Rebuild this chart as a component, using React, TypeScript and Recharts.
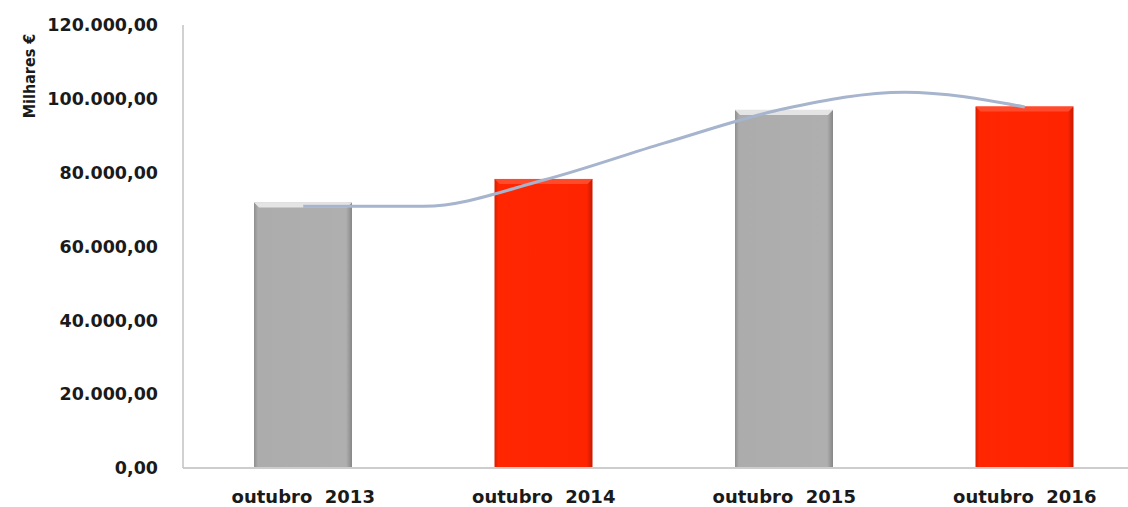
import React from 'react';
import { ComposedChart, Bar, Line, XAxis, YAxis, Label } from 'recharts';

// categorias e valores (milhares de euros)
const periods = ['outubro\u00a0 2013', 'outubro\u00a0 2014', 'outubro\u00a0 2015', 'outubro\u00a0 2016'];
const amounts = [71900, 78300, 97000, 97900];

// linha de tendência (posição em categorias -> valor)
const trendPos = [0, 0.5, 1, 1.5, 2, 2.5, 3];
const trendVals = [70900, 70900, 78000, 88000, 97300, 101800, 97800];

const yTicks = [0, 20000, 40000, 60000, 80000, 100000, 120000];

const rows = periods.map((p, i) => ({ name: p, value: amounts[i] }));
const trendRows = trendPos.map((x, i) => ({ x, v: trendVals[i] }));

const fmt = (n: number) => {
  const s = Math.round(n).toString().replace(/\B(?=(\d{3})+(?!\d))/g, '.');
  return s + ',00';
};

const BarShape = (props: any) => {
  const { x, y, width, height, index } = props;
  const red = index % 2 === 1;
  const b = 5;
  return (
    <g>
      <rect x={x} y={y} width={width} height={height} fill={red ? 'url(#gRed)' : 'url(#gGrey)'} />
      <polygon
        points={`${x},${y} ${x + width},${y} ${x + width - b},${y + b} ${x + b},${y + b}`}
        fill={red ? '#ff4a2c' : '#e4e4e4'}
      />
    </g>
  );
};

const App: React.FC = () => {
  const tickStyle = { fill: '#1a1a1a', fontSize: 17.5, fontWeight: 'bold', fontFamily: '"DejaVu Sans", Verdana, sans-serif' };
  return (
    <div style={{ position: 'absolute', left: 0, top: 0, width: 1128, height: 507, overflow: 'hidden', background: '#fff' }}>
      <ComposedChart width={1150} height={507} data={rows} margin={{ top: 25, right: 5, bottom: 0, left: 0 }}>
        <defs>
          <linearGradient id="gGrey" x1="0" y1="0" x2="1" y2="0">
            <stop offset="0%" stopColor="#8e8e8e" />
            <stop offset="4%" stopColor="#acacac" />
            <stop offset="94%" stopColor="#afafaf" />
            <stop offset="100%" stopColor="#868686" />
          </linearGradient>
          <linearGradient id="gRed" x1="0" y1="0" x2="1" y2="0">
            <stop offset="0%" stopColor="#d81e00" />
            <stop offset="4%" stopColor="#ff2600" />
            <stop offset="94%" stopColor="#ff2400" />
            <stop offset="100%" stopColor="#c41a00" />
          </linearGradient>
        </defs>
        <XAxis
          dataKey="name"
          axisLine={{ stroke: '#cdcdcd', strokeWidth: 2 }}
          tickLine={false}
          tickSize={0}
          tickMargin={22}
          height={39}
          interval={0}
          tick={{ ...tickStyle, fontSize: 18 }}
        />
        <XAxis xAxisId="t" type="number" dataKey="x" domain={[-0.5, 3.5]} allowDataOverflow hide />
        <YAxis
          width={183}
          domain={[0, 120000]}
          ticks={yTicks}
          tickFormatter={fmt}
          axisLine={{ stroke: '#c2c2c2', strokeWidth: 1.5 }}
          tickLine={false}
          tickSize={0}
          tickMargin={25}
          tick={tickStyle}
        >
          <Label
            content={() => (
              <text
                transform="translate(29,76) rotate(-90)"
                textAnchor="middle"
                dominantBaseline="central"
                fontSize={16}
                fontWeight="bold"
                fill="#1a1a1a"
                fontFamily='"DejaVu Sans Condensed", "DejaVu Sans", sans-serif'
              >
                Milhares €
              </text>
            )}
          />
        </YAxis>
        <Bar dataKey="value" barSize={98} shape={BarShape} isAnimationActive={false} />
        <Line
          xAxisId="t"
          data={trendRows}
          dataKey="v"
          type="monotone"
          stroke="#a6b4cd"
          strokeWidth={3}
          dot={false}
          activeDot={false}
          isAnimationActive={false}
        />
      </ComposedChart>
    </div>
  );
};

export default App;
